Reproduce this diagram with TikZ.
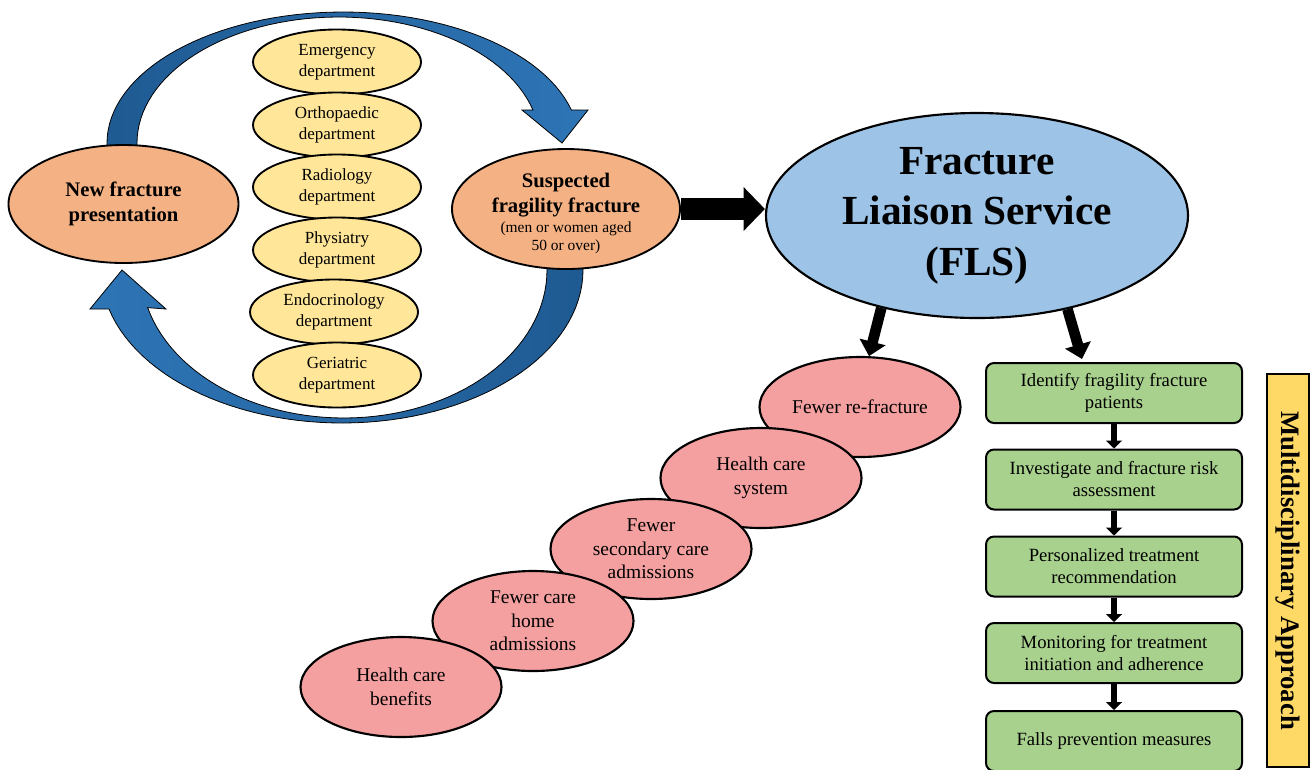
\documentclass[tikz,border=0pt]{standalone}
\usepackage{fontspec}
\setmainfont{Liberation Serif}
\usetikzlibrary{arrows.meta,shapes.geometric}
\definecolor{orangeN}{HTML}{F4B183}
\definecolor{yellowN}{HTML}{FFE699}
\definecolor{blueN}{HTML}{9DC3E6}
\definecolor{pinkN}{HTML}{F4A0A0}
\definecolor{greenN}{HTML}{A9D18E}
\definecolor{sideY}{HTML}{FFD966}
\definecolor{arrDark}{HTML}{1F5A92}
\definecolor{arrLight}{HTML}{2E75B6}
\begin{document}
\begin{tikzpicture}[x=0.75pt,y=-0.75pt,
 dept/.style={ellipse, draw=black, line width=1.4pt, fill=yellowN, minimum width=126pt, minimum height=48.75pt, inner sep=0pt, align=center, font=\fontsize{12.75}{15.5}\selectfont},
 orangeell/.style={ellipse, draw=black, line width=1.4pt, fill=orangeN, inner sep=0pt},
 benefit/.style={ellipse, draw=black, line width=1.6pt, fill=pinkN, minimum width=150.75pt, minimum height=75pt, inner sep=0pt, align=center, font=\fontsize{14.6}{17.6}\selectfont},
 stepbox/.style={draw=black, line width=1.5pt, fill=greenN, rounded corners=6pt, minimum width=192pt, minimum height=45pt, inner sep=0pt, align=center, font=\fontsize{14}{16.5}\selectfont},
 smallarrow/.style={line width=4.5pt, -{Triangle[width=12pt,length=6pt]}},
 fatarrow/.style={line width=8pt, -{Triangle[width=19.5pt,length=11pt]}},
 bluearrow/.style={draw=black, line width=0.6pt},
]
\clip (0,0) rectangle (1312,769);
\fill[white] (0,0) rectangle (1312,769);

% top curved arrow
\path[bluearrow, left color=arrDark, right color=arrLight]
 (107,160) -- plot[domain=180:14.6, samples=60] ({343+236*cos(\x)},{143-131*sin(\x)})
 -- (588,110) -- (562,143) -- (522,110)
 -- plot[domain=15.2:180, samples=60] ({338.5+201.5*cos(\x)},{143-126*sin(\x)})
 -- (137,160) -- cycle;
% bottom curved arrow
\path[bluearrow, left color=arrLight, right color=arrDark]
 (583,250) -- plot[domain=0:-165.23, samples=60] ({342+241*cos(\x)},{270-153*sin(\x)})
 -- (90,309) -- (122,270) -- (166,309)
 -- plot[domain=-165.28:0, samples=60] ({344+203*cos(\x)},{270-148*sin(\x)})
 -- (547,250) -- cycle;

\node[dept] (emerg) at (337,62) {Emergency\\department};
\node[dept] (ortho) at (337,125) {Orthopaedic\\department};
\node[dept] (radio) at (337,187) {Radiology\\department};
\node[dept] (physi) at (337,250) {Physiatry\\department};
\node[dept] (endo) at (334,312) {Endocrinology\\department};
\node[dept] (geri) at (337,375) {Geriatric\\department};

\node[orangeell, minimum width=172.5pt, minimum height=88.5pt, align=center, font=\fontsize{15.5}{18.75}\selectfont\bfseries] (newfx) at (123.5,204) {New fracture\\presentation};
\node[orangeell, minimum width=171pt, minimum height=90pt] (susp) at (566,209) {};
\node[align=center, inner sep=0pt, font=\fontsize{15.5}{18.75}\selectfont\bfseries] (susptitle) at (566,195) {Suspected\\fragility fracture};
\node[align=center, inner sep=0pt, font=\fontsize{11.6}{13.5}\selectfont] (suspsub) at (566,238) {(men or women aged\\50 or over)};

\node[ellipse, draw=black, line width=1.6pt, fill=blueN, minimum width=316.5pt, minimum height=153.75pt, inner sep=0pt, align=center, font=\fontsize{31}{37.9}\selectfont\bfseries] (fls) at (977,215.5) {Fracture\\Liaison Service\\(FLS)};

\node[benefit] (b1) at (860,407) {Fewer re-fracture};
\node[benefit] (b2) at (761,478) {Health care\\system};
\node[benefit] (b3) at (651,549) {Fewer\\secondary care\\admissions};
\node[benefit] (b4) at (533,621) {Fewer care\\home\\admissions};
\node[benefit] (b5) at (401,687) {Health care\\benefits};

\node[stepbox] (s1) at (1114,393) {Identify fragility fracture\\patients};
\node[stepbox] (s2) at (1114,479.5) {Investigate and fracture risk\\assessment};
\node[stepbox] (s3) at (1114,566.5) {Personalized treatment\\recommendation};
\node[stepbox] (s4) at (1114,653) {Monitoring for treatment\\initiation and adherence};
\node[stepbox] (s5) at (1114,741) {Falls prevention measures};

\node[draw=black, line width=1.5pt, fill=sideY, rotate=-90, minimum width=294.75pt, minimum height=31.5pt, inner sep=0pt, font=\fontsize{20}{24}\selectfont\bfseries] (multi) at (1288,570.5) {Multidisciplinary Approach};

\draw[smallarrow] (s1.south) -- (s2.north);
\draw[smallarrow] (s2.south) -- (s3.north);
\draw[smallarrow] (s3.south) -- (s4.north);
\draw[smallarrow] (s4.south) -- (s5.north);

\draw[line width=17pt, -{Triangle[width=32pt,length=16pt]}] (susp.east) -- (susp.east -| fls.west);
\coordinate (t2) at (1082,359);
\draw[fatarrow] (fls.224) -- (b1.80);
\draw[fatarrow] (fls.314) -- (t2);
\end{tikzpicture}
\end{document}
